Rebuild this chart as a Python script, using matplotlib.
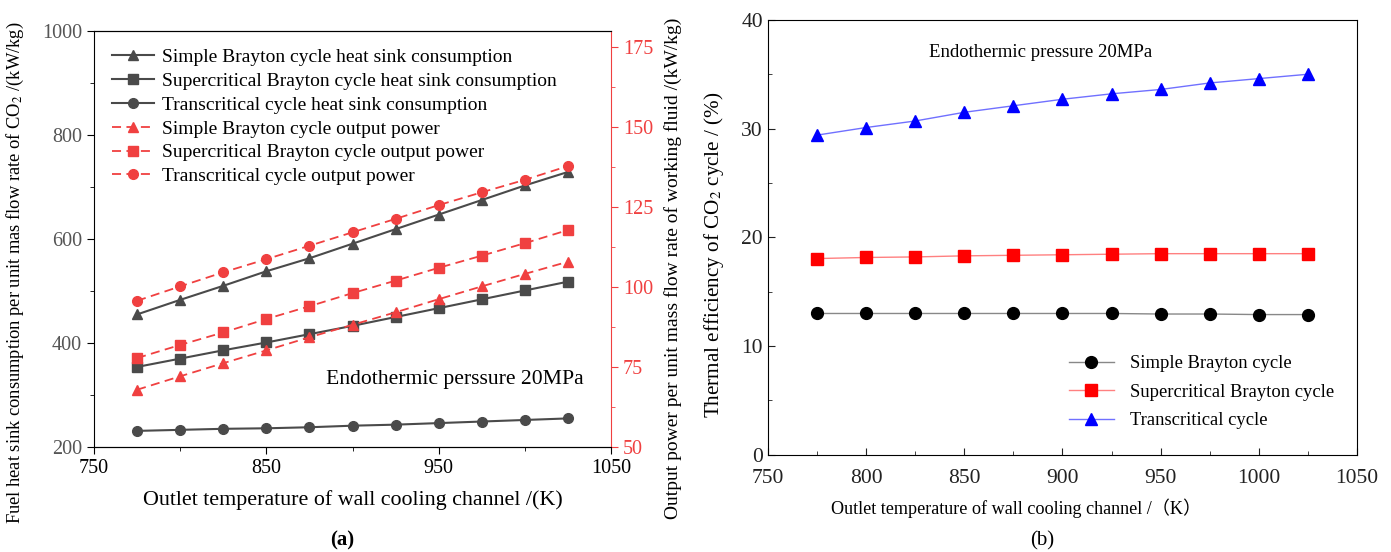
import numpy as np
import matplotlib
matplotlib.use('Agg')
from matplotlib import pyplot as plt
from matplotlib.ticker import MultipleLocator, FixedLocator

plt.rcParams['font.family'] = ['Liberation Serif', 'Noto Sans CJK SC', 'DejaVu Sans']
plt.rcParams['mathtext.fontset'] = 'stix'

temps = [775, 800, 825, 850, 875, 900, 925, 950, 975, 1000, 1025]

# (a) heat sink consumption, kW/kg (left axis)
simple_sink = [455, 483, 510, 538, 563, 591, 619, 647, 675, 703, 729]
super_sink = [354, 370, 386, 401, 417, 433, 450, 467, 484, 501, 518]
trans_sink = [231, 233, 235, 236, 238, 241, 243, 246, 249, 252, 255]

# (a) output power, kW/kg (right axis)
simple_pow = [67.9, 72.1, 76.2, 80.2, 84.3, 88.2, 92.1, 96.2, 100.2, 104.1, 107.9]
super_pow = [77.8, 81.9, 85.8, 90.0, 94.0, 98.1, 102.0, 106.0, 109.8, 113.7, 117.8]
trans_pow = [95.7, 100.2, 104.6, 108.7, 112.9, 117.1, 121.3, 125.6, 129.6, 133.5, 137.8]

# (b) thermal efficiency, %
simple_eff = [13.0, 13.0, 13.0, 13.0, 13.0, 13.0, 13.0, 12.95, 12.95, 12.9, 12.9]
super_eff = [18.05, 18.15, 18.2, 18.3, 18.35, 18.4, 18.45, 18.5, 18.5, 18.5, 18.5]
trans_eff = [29.4, 30.1, 30.7, 31.5, 32.1, 32.7, 33.2, 33.6, 34.2, 34.6, 35.0]

grey = '#4a4a4a'
red = '#f04040'

fig = plt.figure(figsize=(13.91, 5.52), dpi=100)

# ---------------- (a) ----------------
ax = fig.add_axes([0.0676, 0.1902, 0.3717, 0.7536])
ax.plot(temps, simple_sink, '-^', color=grey, ms=7, lw=1.5, label='Simple Brayton cycle heat sink consumption')
ax.plot(temps, super_sink, '-s', color=grey, ms=6.5, lw=1.5, label='Supercritical Brayton cycle heat sink consumption')
ax.plot(temps, trans_sink, '-o', color=grey, ms=7, lw=1.5, label='Transcritical cycle heat sink consumption')
ax.set_xlim(750, 1050)
ax.set_ylim(200, 1000)
ax.xaxis.set_major_locator(FixedLocator([750, 850, 950, 1050]))
ax.xaxis.set_minor_locator(FixedLocator([800, 900, 1000]))
ax.yaxis.set_major_locator(MultipleLocator(200))
ax.yaxis.set_minor_locator(MultipleLocator(100))
ax.tick_params(which='both', direction='out', labelsize=14.5, colors='black')
ax.tick_params(which='major', length=5)
ax.tick_params(which='minor', length=3)
for lab in ax.get_yticklabels():
    lab.set_color('#555555')
ax.set_xlabel('Outlet temperature of wall cooling channel /(K)', fontsize=15.8, labelpad=9)
ax.set_ylabel('Fuel heat sink consumption per unit mas flow rate of CO$_2$ /(kW/kg)', fontsize=13.3)
ax.yaxis.set_label_coords(-0.1315, 0.42)
ax.spines['right'].set_visible(False)
ax.text(1034, 330, 'Endothermic perssure 20MPa', fontsize=15.6, ha='right', va='center')

ax2 = ax.twinx()
ax2.plot(temps, simple_pow, '--^', color=red, ms=7, lw=1.3, dashes=(5, 3), label='Simple Brayton cycle output power')
ax2.plot(temps, super_pow, '--s', color=red, ms=6.5, lw=1.3, dashes=(5, 3), label='Supercritical Brayton cycle output power')
ax2.plot(temps, trans_pow, '--o', color=red, ms=7, lw=1.3, dashes=(5, 3), label='Transcritical cycle output power')
ax2.set_ylim(50, 180)
ax2.yaxis.set_major_locator(MultipleLocator(25))
ax2.yaxis.set_minor_locator(MultipleLocator(12.5))
ax2.tick_params(which='both', direction='out', colors=red, labelsize=14.5)
ax2.tick_params(which='major', length=5)
ax2.tick_params(which='minor', length=3)
ax2.spines['right'].set_color(red)
ax2.spines['left'].set_visible(False)
ax2.set_ylabel('Output power per unit mass flow rate of working fluid /(kW/kg)', fontsize=14, color='black')
ax2.yaxis.set_label_coords(1.1025, 0.43)

h1, l1 = ax.get_legend_handles_labels()
h2, l2 = ax2.get_legend_handles_labels()
ax2.legend(h1 + h2, l1 + l2, loc='upper left', frameon=False, fontsize=14,
           handlelength=2.2, handletextpad=0.4, labelspacing=0.32, borderaxespad=0.5)

fig.text(0.246, 0.012, '(a)', fontsize=15, fontweight='bold', ha='center')

# ---------------- (b) ----------------
bx = fig.add_axes([0.552, 0.176, 0.4236, 0.788])
bx.plot(temps, simple_eff, '-o', color='#888888', mfc='black', mec='black', ms=8.5, lw=1, label='Simple Brayton cycle')
bx.plot(temps, super_eff, '-s', color='#ff8080', mfc='red', mec='red', ms=8, lw=1, label='Supercritical Brayton cycle')
bx.plot(temps, trans_eff, '-^', color='#7070ff', mfc='blue', mec='blue', ms=8.5, lw=1, label='Transcritical cycle')
bx.set_xlim(750, 1050)
bx.set_ylim(0, 40)
bx.xaxis.set_major_locator(MultipleLocator(50))
bx.xaxis.set_minor_locator(MultipleLocator(25))
bx.yaxis.set_major_locator(MultipleLocator(10))
bx.yaxis.set_minor_locator(MultipleLocator(5))
bx.tick_params(which='both', direction='in', labelsize=15.5, colors='#222222')
bx.tick_params(axis='x', which='both', pad=10)
bx.tick_params(which='major', length=5)
bx.tick_params(which='minor', length=3)
bx.set_xlabel('Outlet temperature of wall cooling channel /（K）', fontsize=13.1)
bx.xaxis.set_label_coords(0.421, -0.1)
bx.set_ylabel('Thermal efficiency of CO$_2$ cycle / (%)', fontsize=15.2)
bx.yaxis.set_label_coords(-0.071, 0.46)
bx.text(889, 37.0, 'Endothermic pressure 20MPa', fontsize=13.5, ha='center', va='center')
bx.legend(loc='lower right', frameon=False, fontsize=13.4, handlelength=2.4, handletextpad=0.9,
          labelspacing=0.62, bbox_to_anchor=(0.99, 0.02))

fig.text(0.749, 0.012, '(b)', fontsize=15, ha='center')

plt.savefig('out.png', dpi=100)
